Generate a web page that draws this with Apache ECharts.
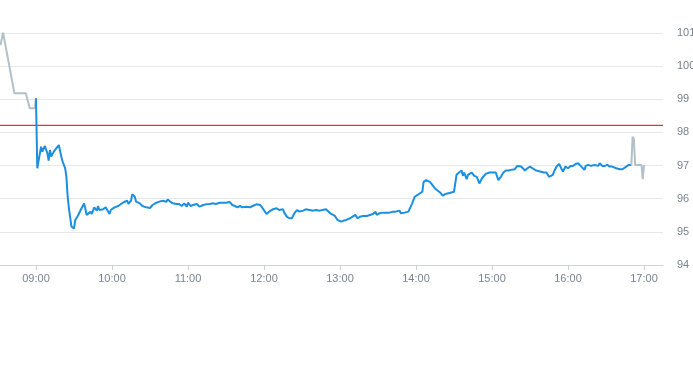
<!DOCTYPE html>
<html>
<head>
<meta charset="utf-8">
<script src="https://cdn.jsdelivr.net/npm/echarts@6/dist/echarts.min.js"></script>
<style>
  html, body { margin: 0; padding: 0; background: #fff; }
  #chart { width: 693px; height: 365px; }
</style>
</head>
<body>
<div id="chart"></div>
<script>
// pre-market (grey)
var preTimes = ['08:32', '08:34', '08:43', '08:52', '08:55', '08:59', '09:00'];
var preValues = [100.64, 101.01, 99.18, 99.18, 98.73, 98.73, 99.03];

// main session (blue)
var dayTimes = [
  '09:00', '09:01', '09:04', '09:05', '09:07', '09:09', '09:10', '09:11', '09:12', '09:14',
  '09:16', '09:18', '09:19', '09:20', '09:21', '09:23', '09:24', '09:25', '09:26', '09:28',
  '09:30', '09:31', '09:33', '09:34', '09:36', '09:38', '09:40', '09:41', '09:43', '09:44',
  '09:46', '09:48', '09:49', '09:50', '09:53', '09:55', '09:58', '09:59', '10:02', '10:05',
  '10:07', '10:10', '10:12', '10:13', '10:15', '10:16', '10:18', '10:19', '10:22', '10:24',
  '10:27', '10:30', '10:32', '10:35', '10:38', '10:40', '10:43', '10:44', '10:46', '10:48',
  '10:51', '10:53', '10:55', '10:57', '10:59', '11:00', '11:02', '11:04', '11:07', '11:09',
  '11:12', '11:14', '11:17', '11:20', '11:22', '11:25', '11:28', '11:30', '11:33', '11:35',
  '11:37', '11:39', '11:41', '11:43', '11:46', '11:49', '11:51', '11:54', '11:57', '11:59',
  '12:02', '12:04', '12:07', '12:10', '12:12', '12:15', '12:16', '12:18', '12:20', '12:22',
  '12:24', '12:26', '12:28', '12:31', '12:33', '12:36', '12:39', '12:41', '12:44', '12:46',
  '12:49', '12:51', '12:53', '12:56', '12:58', '12:59', '13:01', '13:03', '13:05', '13:08',
  '13:10', '13:12', '13:14', '13:16', '13:18', '13:21', '13:23', '13:26', '13:28', '13:29',
  '13:31', '13:34', '13:37', '13:39', '13:42', '13:44', '13:47', '13:48', '13:51', '13:54',
  '13:55', '13:57', '13:59', '14:01', '14:02', '14:05', '14:06', '14:08', '14:09', '14:11',
  '14:13', '14:15', '14:16', '14:19', '14:21', '14:23', '14:25', '14:28', '14:30', '14:32',
  '14:34', '14:36', '14:37', '14:38', '14:40', '14:41', '14:42', '14:44', '14:46', '14:48',
  '14:50', '14:52', '14:53', '14:55', '14:58', '15:01', '15:03', '15:05', '15:07', '15:09',
  '15:11', '15:13', '15:15', '15:18', '15:20', '15:23', '15:26', '15:28', '15:30', '15:33',
  '15:35', '15:38', '15:41', '15:43', '15:45', '15:48', '15:49', '15:51', '15:53', '15:55',
  '15:56', '15:58', '16:00', '16:02', '16:04', '16:06', '16:08', '16:10', '16:11', '16:13',
  '16:14', '16:16', '16:18', '16:21', '16:24', '16:25', '16:27', '16:29', '16:31', '16:33',
  '16:35', '16:38', '16:41', '16:43', '16:46', '16:48', '16:50'
];
var dayValues = [
  99.03, 96.92, 97.57, 97.42, 97.59, 97.37, 97.15, 97.47, 97.27, 97.42,
  97.52, 97.62, 97.67, 97.27, 97.12, 96.92, 96.66, 96.06, 95.71, 95.16,
  95.10, 95.36, 95.48, 95.56, 95.71, 95.86, 95.51, 95.46, 95.61, 95.54,
  95.74, 95.64, 95.78, 95.66, 95.68, 95.74, 95.54, 95.66, 95.74, 95.78,
  95.84, 95.91, 95.94, 95.84, 95.94, 96.14, 96.06, 95.91, 95.86, 95.78,
  95.74, 95.72, 95.81, 95.88, 95.92, 95.94, 95.91, 95.98, 95.91, 95.86,
  95.84, 95.84, 95.78, 95.86, 95.76, 95.88, 95.78, 95.81, 95.84, 95.76,
  95.81, 95.83, 95.84, 95.86, 95.84, 95.88, 95.88, 95.88, 95.90, 95.81,
  95.78, 95.74, 95.78, 95.74, 95.76, 95.74, 95.78, 95.83, 95.81, 95.71,
  95.54, 95.61, 95.68, 95.71, 95.66, 95.68, 95.58, 95.46, 95.41, 95.41,
  95.56, 95.66, 95.61, 95.64, 95.68, 95.66, 95.64, 95.66, 95.64, 95.66,
  95.68, 95.61, 95.54, 95.48, 95.36, 95.38, 95.31, 95.34, 95.36, 95.41,
  95.46, 95.51, 95.41, 95.46, 95.48, 95.48, 95.50, 95.54, 95.61, 95.51,
  95.56, 95.58, 95.58, 95.58, 95.61, 95.61, 95.64, 95.56, 95.58, 95.61,
  95.66, 95.86, 96.06, 96.11, 96.16, 96.21, 96.51, 96.56, 96.56, 96.51,
  96.41, 96.31, 96.26, 96.19, 96.09, 96.14, 96.16, 96.19, 96.21, 96.72,
  96.79, 96.85, 96.69, 96.79, 96.59, 96.72, 96.77, 96.79, 96.69, 96.66,
  96.46, 96.61, 96.66, 96.75, 96.79, 96.79, 96.79, 96.56, 96.66, 96.79,
  96.85, 96.85, 96.87, 96.89, 96.99, 96.97, 96.85, 96.92, 96.97, 96.89,
  96.85, 96.82, 96.79, 96.79, 96.66, 96.72, 96.82, 96.97, 97.05, 96.89,
  96.82, 96.97, 96.92, 96.99, 96.99, 97.05, 97.07, 96.99, 97.02, 96.87,
  96.99, 97.02, 96.99, 97.02, 96.99, 97.07, 96.99, 96.99, 97.02, 96.97,
  96.97, 96.92, 96.89, 96.89, 96.97, 97.02, 97.02
];

// after-hours (grey)
var postTimes = ['16:50', '16:51', '16:52', '16:53', '16:58', '16:59', '17:00'];
var postValues = [97.02, 97.87, 97.80, 97.02, 97.02, 96.59, 97.02];

var prevClose = 98.21;
var hourTicks = ['09:00', '10:00', '11:00', '12:00', '13:00', '14:00', '15:00', '16:00', '17:00'];

function toMin(t) {
  var p = t.split(':');
  return parseInt(p[0], 10) * 60 + parseInt(p[1], 10);
}
function toLabel(m) {
  var h = Math.floor(m / 60), mm = m % 60;
  return (h < 10 ? '0' : '') + h + ':' + (mm < 10 ? '0' : '') + mm;
}
function pairs(times, values) {
  return times.map(function (t, i) { return [toMin(t), values[i]]; });
}

var tickMins = hourTicks.map(toMin);
var labelColor = '#78838f';
var xMin = 510, xMax = 1035;

var chart = echarts.init(document.getElementById('chart'));
chart.setOption({
  animation: false,
  grid: { left: -2, right: 30, top: 33, bottom: 100, containLabel: false, outerBoundsMode: 'none' },
  xAxis: {
    type: 'value',
    min: xMin,
    max: xMax,
    axisLine: { show: true, lineStyle: { color: '#ccd3dc', width: 1 } },
    axisTick: { show: true, length: 5, customValues: tickMins, lineStyle: { color: '#ccd3dc' } },
    axisLabel: {
      customValues: tickMins,
      color: labelColor,
      fontSize: 11,
      fontFamily: 'Liberation Sans, Arial, sans-serif',
      margin: 8,
      formatter: function (v) { return toLabel(v); }
    },
    splitLine: { show: false }
  },
  yAxis: {
    type: 'value',
    position: 'right',
    min: 94,
    max: 101,
    interval: 1,
    axisLine: { show: false },
    axisTick: { show: false },
    axisLabel: {
      color: labelColor,
      fontSize: 11,
      fontFamily: 'Liberation Sans, Arial, sans-serif',
      margin: 14
    },
    splitLine: { lineStyle: { color: '#e6e8eb', width: 1 } }
  },
  series: [
    {
      // previous close reference line
      name: 'prev',
      type: 'line',
      data: [[xMin, prevClose], [xMax, prevClose]],
      showSymbol: false,
      silent: true,
      lineStyle: { color: '#e0392e', width: 1.2 },
      z: 1
    },
    {
      name: 'pre',
      type: 'line',
      data: pairs(preTimes, preValues),
      showSymbol: false,
      lineStyle: { color: '#b3c0c9', width: 2 },
      z: 2
    },
    {
      name: 'day',
      type: 'line',
      data: pairs(dayTimes, dayValues),
      showSymbol: false,
      lineStyle: { color: '#1b8fe0', width: 2 },
      z: 3
    },
    {
      name: 'post',
      type: 'line',
      data: pairs(postTimes, postValues),
      showSymbol: false,
      lineStyle: { color: '#b3c0c9', width: 2 },
      z: 4
    }
  ]
});
</script>
</body>
</html>
